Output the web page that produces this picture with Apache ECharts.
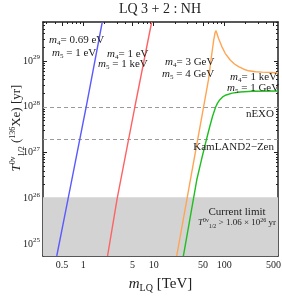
<!DOCTYPE html>
<html>
<head>
<meta charset="utf-8">
<script src="https://cdn.jsdelivr.net/npm/echarts@6/dist/echarts.min.js"></script>
<style>
html,body{margin:0;padding:0;background:#fff;}
#c{width:282px;height:296px;}
</style>
</head>
<body>
<div id="c"></div>
<script>
// ---- data ----
const xRange = [0.268, 581];
const yRange = [5.5e24, 7.1e29];
const xMajorTicks = [0.5, 1, 5, 10, 50, 100, 500];
const xMinorTicks = [0.3, 0.4, 0.6, 0.7, 0.8, 0.9, 2, 3, 4, 6, 7, 8, 9, 20, 30, 40, 60, 70, 80, 90, 200, 300, 400];
const yMajorTicks = [1e25, 1e26, 1e27, 1e28, 1e29];
const yMinorTicks = [6e24, 7e24, 8e24, 9e24,
  2e25, 3e25, 4e25, 5e25, 6e25, 7e25, 8e25, 9e25,
  2e26, 3e26, 4e26, 5e26, 6e26, 7e26, 8e26, 9e26,
  2e27, 3e27, 4e27, 5e27, 6e27, 7e27, 8e27, 9e27,
  2e28, 3e28, 4e28, 5e28, 6e28, 7e28, 8e28, 9e28,
  2e29, 3e29, 4e29, 5e29, 6e29, 7e29];

const currentLimit = 1.06e26;
const nEXO = 1.0e28;
const kamland2Zen = 2.0e27;

// m4 = 0.69 eV, m5 = 1 eV
const blueM = [0.42, 0.61, 1.1, 1.86];
const blueT = [5.5e24, 1e26, 1e28, 7.1e29];
// m4 = 1 eV, m5 = 1 keV
const redM = [2.21, 3.03, 5.4, 9.35];
const redT = [5.5e24, 1e26, 1e28, 7.1e29];
// m4 = 3 GeV, m5 = 4 GeV
const orangeM = [21.2, 33.1, 53.2, 59.8, 66.4, 71.1, 74.2, 76.2, 78.6, 83.0, 92.7, 103.3, 121.7, 140, 160, 190, 222, 280, 344, 581];
const orangeT = [5.5e24, 2.5e26, 1.41e28, 3.85e28, 1.35e29, 2.88e29, 4.1e29, 4.6e29, 4.1e29, 3.13e29, 2.06e29, 1.47e29, 1.05e29, 8.6e28, 7.5e28, 6.6e28, 6.1e28, 5.8e28, 5.7e28, 5.55e28];
// m4 = 1 keV, m5 = 1 GeV
const greenM = [26.34, 32.8, 40.8, 47.5, 55.8, 62.2, 68.6, 75.7, 80.5, 86.3, 95, 106.7, 130, 169, 250, 587];
const greenT = [5.47e24, 3.7e25, 2.51e26, 6.86e26, 1.88e27, 3.61e27, 6.28e27, 9.88e27, 1.2e28, 1.41e28, 1.64e28, 1.81e28, 1.98e28, 2.1e28, 2.18e28, 2.21e28];

// ---- chart ----
const SERIF = '"Liberation Serif", "DejaVu Serif", serif';
const INK = '#222';
const zip = (a, b) => a.map((v, i) => [v, b[i]]);

const chart = echarts.init(document.getElementById('c'), null, {renderer: 'canvas'});

const frameLine = {show: true, lineStyle: {color: INK, width: 1.5}};
function xAxisDef(pos, major, withLabels) {
  return {
    type: 'log', position: pos, min: xRange[0], max: xRange[1], logBase: 10,
    axisLine: major ? frameLine : {show: false},
    splitLine: {show: false},
    axisTick: {show: true, inside: true, length: major ? 4 : 2, lineStyle: {color: INK, width: 1},
      customValues: major ? xMajorTicks : xMinorTicks},
    axisLabel: withLabels ? {show: true, customValues: xMajorTicks, margin: 4,
      fontFamily: SERIF, fontSize: 10, color: INK, formatter: v => String(v)} : {show: false},
    name: withLabels ? '{i|m}{sb|LQ}{n| [TeV]}' : '',
    nameLocation: 'middle', nameGap: 19,
    nameTextStyle: {rich: {
      i: {fontFamily: SERIF, fontSize: 15, fontStyle: 'italic', color: INK, lineHeight: 18},
      sb: {fontFamily: SERIF, fontSize: 10, color: INK, verticalAlign: 'bottom'},
      n: {fontFamily: SERIF, fontSize: 15, color: INK, lineHeight: 18}
    }}
  };
}
function yAxisDef(pos, major, withLabels) {
  return {
    type: 'log', position: pos, min: yRange[0], max: yRange[1], logBase: 10,
    axisLine: major ? frameLine : {show: false},
    splitLine: {show: false},
    axisTick: {show: true, inside: true, length: major ? 4 : 2, lineStyle: {color: INK, width: 1},
      customValues: major ? yMajorTicks : yMinorTicks},
    axisLabel: withLabels ? {show: true, customValues: yMajorTicks, margin: 3,
      formatter: v => '{b|10}{s|' + Math.round(Math.log10(v)) + '}',
      rich: {
        b: {fontFamily: SERIF, fontSize: 10, color: INK, lineHeight: 14},
        s: {fontFamily: SERIF, fontSize: 7, color: INK, verticalAlign: 'top'}
      }} : {show: false}
  };
}

function lineSeries(m, t, color) {
  return {type: 'line', data: zip(m, t), showSymbol: false, symbol: 'none', smooth: false,
    clip: true, z: 5, silent: true, animation: false,
    lineStyle: {color: color, width: 1.4}};
}

const tR = {
  n: {fontFamily: SERIF, fontSize: 11, fill: INK, lineHeight: 14},
  i: {fontFamily: SERIF, fontSize: 11, fontStyle: 'italic', fill: INK, lineHeight: 14},
  sb: {fontFamily: SERIF, fontSize: 7, fill: INK, verticalAlign: 'bottom'}
};
function txt(x, y, text, align, rich, rot) {
  return {type: 'text', x: x, y: y, z: 100, silent: true, rotation: rot || 0,
    style: {text: text, rich: rich || tR, textAlign: align || 'left', textVerticalAlign: 'middle',
      fill: INK, fontFamily: SERIF, fontSize: 11}};
}
const smallR = {
  n: {fontFamily: SERIF, fontSize: 9, fill: INK, lineHeight: 12},
  i: {fontFamily: SERIF, fontSize: 9, fontStyle: 'italic', fill: INK, lineHeight: 12},
  sp: {fontFamily: SERIF, fontSize: 6, fill: INK, verticalAlign: 'top'},
  sb: {fontFamily: SERIF, fontSize: 6, fill: INK, verticalAlign: 'bottom'}
};
const yTitleR = {
  i: {fontFamily: SERIF, fontSize: 13, fontStyle: 'italic', fill: INK, lineHeight: 17},
  n: {fontFamily: SERIF, fontSize: 13, fill: INK, lineHeight: 17},
  sp: {fontFamily: SERIF, fontSize: 8, fill: INK, verticalAlign: 'top'},
  sb: {fontFamily: SERIF, fontSize: 8, fill: INK, verticalAlign: 'bottom'}
};
const titleR = {n: {fontFamily: SERIF, fontSize: 14, fill: INK}};

chart.setOption({
  animation: false,
  backgroundColor: '#fff',
  grid: {left: 43, right: 4, top: 22, bottom: 40, containLabel: false, outerBoundsMode: 'none'},
  xAxis: [xAxisDef('bottom', true, true), xAxisDef('bottom', false, false),
          xAxisDef('top', true, false), xAxisDef('top', false, false)],
  yAxis: [yAxisDef('left', true, true), yAxisDef('left', false, false),
          yAxisDef('right', true, false), yAxisDef('right', false, false)],
  series: [
    {type: 'line', data: [], z: 1, silent: true,
      markArea: {silent: true, itemStyle: {color: '#d3d3d3', opacity: 1},
        data: [[{yAxis: yRange[0]}, {yAxis: currentLimit}]]}},
    {type: 'line', data: [], z: 2, silent: true,
      markLine: {silent: true, symbol: 'none', label: {show: false},
        lineStyle: {color: '#9a9a9a', type: [4, 3], width: 1},
        data: [{yAxis: nEXO}, {yAxis: kamland2Zen}]}},
    lineSeries(blueM, blueT, '#5a5aff'),
    lineSeries(redM, redT, '#ff6262'),
    lineSeries(orangeM, orangeT, '#ffa552'),
    lineSeries(greenM, greenT, '#1fbf1f')
  ],
  graphic: [
    txt(160, 9, '{n|LQ 3 + 2 : NH}', 'center', titleR),
    txt(17, 128, '{i|T}{sp|0\u03BD}{sb|1/2}{n| (}{sp|136}{n|Xe) [yr]}', 'center', yTitleR, Math.PI / 2),
    txt(49, 40, '{i|m}{sb|4}{n|= 0.69 eV}'),
    txt(52, 53, '{i|m}{sb|5}{n| = 1 eV}'),
    txt(107, 54, '{i|m}{sb|4}{n|= 1 eV}'),
    txt(98, 64, '{i|m}{sb|5}{n| = 1 keV}'),
    txt(165, 62, '{i|m}{sb|4}{n|= 3 GeV}'),
    txt(162, 74, '{i|m}{sb|5}{n| = 4 GeV}'),
    txt(230, 77, '{i|m}{sb|4}{n|= 1 keV}'),
    txt(227, 88, '{i|m}{sb|5}{n| = 1 GeV}'),
    txt(274, 114, '{n|nEXO}', 'right'),
    txt(274, 147, '{n|KamLAND2\u2212Zen}', 'right'),
    txt(237, 212, '{n|Current limit}', 'center'),
    txt(276, 223, '{i|T}{sp|0\u03BD}{sb|1/2}{n| > 1.06 \u00D7 10}{sp|26}{n| yr}', 'right', smallR)
  ]
});
</script>
</body>
</html>
